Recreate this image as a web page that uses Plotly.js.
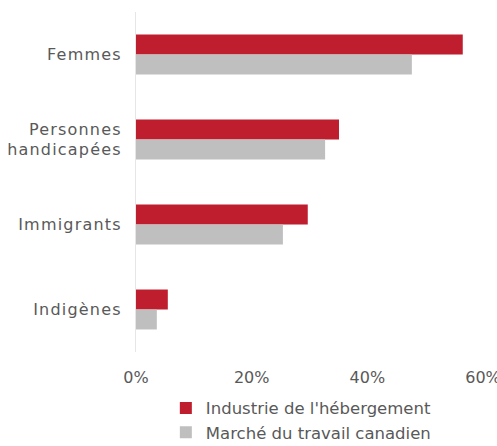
<!DOCTYPE html>
<html>
<head>
<meta charset="utf-8">
<script src="https://cdn.plot.ly/plotly-3.0.1.min.js"></script>
<style>
body{margin:0;padding:0;background:#fff;}
#chart{width:497px;height:446px;}
.ytick text{letter-spacing:1.2px;}
</style>
</head>
<body>
<div id="chart"></div>
<script>
const categories = ["Femmes", "Personnes<br>handicapées", "Immigrants", "Indigènes"];
const industrie = [56.5, 35.1, 29.7, 5.5];
const marche = [47.7, 32.7, 25.4, 3.6];
const seriesNames = ["Industrie de l'hébergement", "Marché du travail canadien"];
const tickVals = [0, 20, 40, 60];
const tickText = ["0%", "20%", "40%", "60%"];

const fontFam = "DejaVu Sans, sans-serif";
const traces = [
  {type:'bar', orientation:'h', y:categories, x:industrie, name:seriesNames[0],
   marker:{color:'#be1e2d'}, hoverinfo:'skip'},
  {type:'bar', orientation:'h', y:categories, x:marche, name:seriesNames[1],
   marker:{color:'#bfbfbf'}, hoverinfo:'skip'}
];
const layout = {
  width:497, height:446,
  margin:{l:136, r:14, t:12, b:94},
  barmode:'group', bargap:0.53, bargroupgap:0,
  paper_bgcolor:'#fff', plot_bgcolor:'#fff',
  font:{family:fontFam, color:'#595959', size:15},
  xaxis:{range:[0,60.0001], tickvals:tickVals, ticktext:tickText, showgrid:false,
         zeroline:false, showline:false, ticks:'outside', ticklen:11, tickcolor:'rgba(0,0,0,0)',
         tickfont:{size:16, color:'#595959'}, fixedrange:true, automargin:false,
         ticklabeloverflow:'allow'},
  yaxis:{autorange:'reversed', showline:true, linecolor:'#e6e6e6', linewidth:1,
         showgrid:false, zeroline:false, ticks:'outside', ticklen:10, tickcolor:'rgba(0,0,0,0)',
         tickfont:{size:16, color:'#595959'}, fixedrange:true, automargin:false},
  legend:{orientation:'v', x:0.086, xanchor:'left', yref:'container', y:0.124, yanchor:'top',
          font:{size:16.5, color:'#595959'}, tracegroupgap:0, itemwidth:30, bgcolor:'rgba(0,0,0,0)'},
  showlegend:true
};
Plotly.newPlot('chart', traces, layout, {displayModeBar:false, staticPlot:true});
</script>
</body>
</html>
